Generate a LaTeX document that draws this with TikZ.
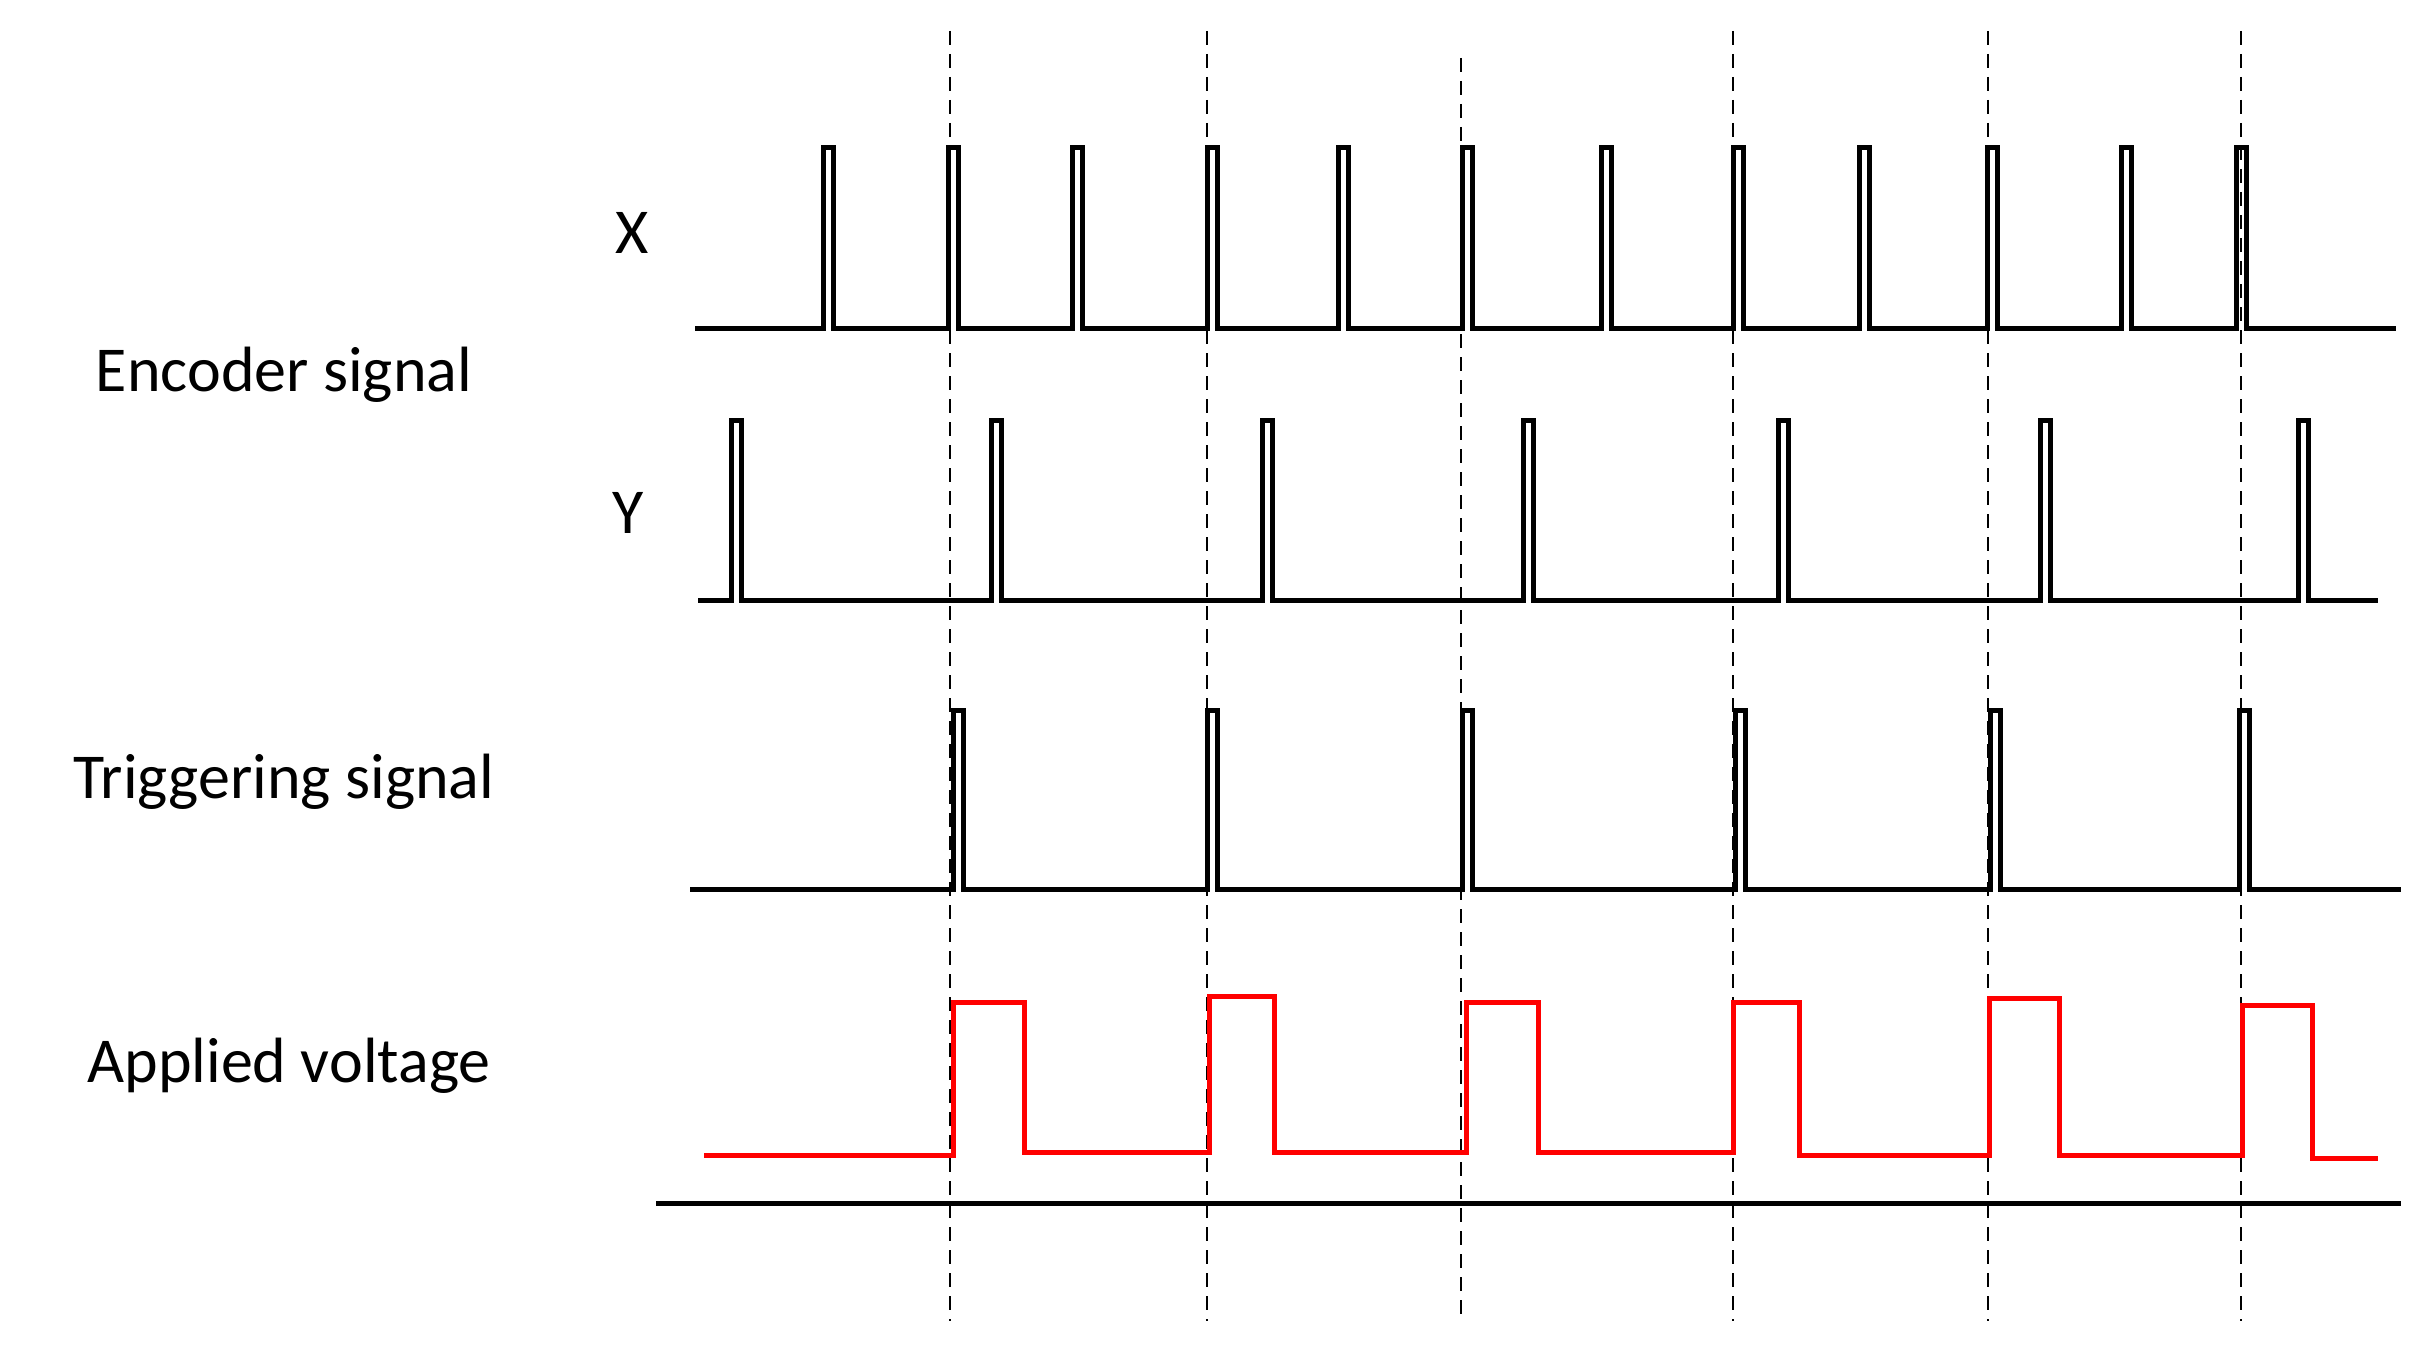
\documentclass[tikz,border=0pt]{standalone}
\usepackage{fontspec}
\setmainfont{Carlito}
\begin{document}
\begin{tikzpicture}[x=1pt,y=-1pt,
  sig/.style={line width=5pt,line join=miter},
  vsig/.style={line width=5pt,red},
  dsh/.style={line width=2pt,dash pattern=on 14pt off 9pt},
  lab/.style={font=\fontsize{64}{70}\selectfont}]
\useasboundingbox (0,0) rectangle (2424,1364);
% dashed verticals
\foreach \x/\t in {950/31,1207/31,1461/58,1733/31,1988/31,2241/31}
  \draw[dsh] (\x,\t) -- (\x,1321);
% X
\def\pulses#1#2#3#4#5{%
  \draw[sig] (#1,#3) \foreach \p in {#5} {-- (\p,#3) -- (\p,#4) -- ({\p+10},#4) -- ({\p+10},#3)} -- (#2,#3);}
\pulses{695}{2396}{328}{148}{823,948,1072,1207,1338,1462,1601,1733,1859,1987,2121,2236}
\pulses{698}{2378}{600}{420}{731,991,1262,1523,1778,2040,2298}
\pulses{690}{2401}{889}{710}{953,1207,1462,1735,1990,2239}
\draw[vsig] (704,1155) -- (953,1155) -- (953,1002) -- (1024,1002) -- (1024,1152)
  -- (1209,1152) -- (1209,996) -- (1274,996) -- (1274,1152)
  -- (1466,1152) -- (1466,1002) -- (1538,1002) -- (1538,1152)
  -- (1733,1152) -- (1733,1002) -- (1799,1002) -- (1799,1155)
  -- (1989,1155) -- (1989,998) -- (2059,998) -- (2059,1155)
  -- (2242,1155) -- (2242,1005) -- (2312,1005) -- (2312,1158) -- (2378,1158);
\draw[sig] (656,1203) -- (2401,1203);
\node[lab] (x) at (632,233) {X};
\node[lab] (enc) at (284,375) {Encoder signal};
\node[lab] (y) at (628,513) {Y};
\node[lab] (trg) at (284,782) {Triggering signal};
\node[lab] (av) at (289,1066) {Applied voltage};
\end{tikzpicture}
\end{document}
